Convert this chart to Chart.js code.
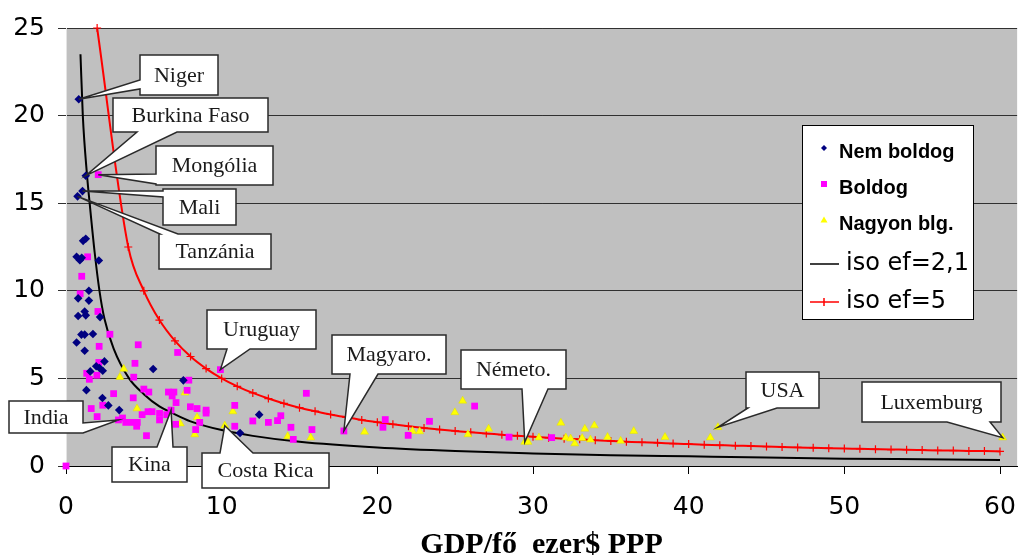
<!DOCTYPE html>
<html>
<head>
<meta charset="utf-8">
<script src="https://cdn.jsdelivr.net/npm/chart.js@4.4.1/dist/chart.umd.min.js"></script>
<style>
  html, body { margin: 0; padding: 0; background: #fff; }
  canvas { display: block; }
</style>
</head>
<body>
<canvas id="happyChart" width="1034" height="556"></canvas>
<script>
// Series values (x = GDP/fő ezer$ PPP)
const nemBoldogX = [0.82, 1.27, 1.06, 0.74, 1.1, 1.27, 0.68, 0.89, 1.01, 2.11, 1.47, 0.78, 1.47, 1.2, 1.27, 0.78, 2.19,
  0.99, 1.2, 1.73, 0.68, 1.2, 2.47, 1.94, 2.15, 2.36, 1.56, 5.6, 7.54, 1.31, 2.34, 2.72, 3.42, 11.18, 12.41];
const nemBoldogY = [20.93, 16.57, 15.69, 15.39, 12.85, 12.97, 11.94, 11.75, 11.88, 11.73, 10.0, 9.57, 9.44, 8.82, 8.6, 8.56, 8.5,
  7.5, 7.5, 7.53, 7.05, 6.58, 5.97, 5.69, 5.59, 5.44, 5.4, 5.54, 4.89, 4.33, 3.88, 3.46, 3.19, 1.88, 2.93];

const boldogX = [0, 2.07, 1.39, 1.01, 0.91, 2.05, 2.82, 2.13, 4.64, 7.17, 2.11, 4.43, 1.33, 1.5, 1.98, 4.35, 7.89, 9.92,
  3.06, 4.32, 5.0, 5.32, 6.58, 6.93, 6.82, 7.07, 7.78, 1.62, 2.36, 2.0, 3.37, 3.63, 3.84, 4.26, 4.58, 4.54,
  4.89, 5.27, 5.53, 6.01, 6.01, 6.47, 5.17, 7.04, 6.75, 7.99, 8.42, 9.0, 9.0, 8.59, 8.33, 10.84, 10.84,
  15.44, 12.0, 13.0, 13.59, 13.8, 14.45, 15.8, 14.6, 17.85, 20.51, 20.36, 21.98, 23.35, 26.25, 28.46, 31.2];
const boldogY = [0, 16.63, 11.94, 10.83, 9.83, 8.82, 7.52, 6.83, 6.92, 6.48, 5.91, 5.86, 5.29, 4.95, 5.18, 5.07, 4.9, 5.5,
  4.13, 3.89, 4.39, 4.22, 4.22, 4.22, 4.0, 3.62, 4.32, 3.28, 3.47, 2.82, 2.63, 2.74, 2.49, 2.49, 2.49, 2.27,
  2.93, 3.1, 3.1, 3.0, 2.63, 2.93, 1.73, 2.38, 3.19, 3.38, 3.28, 3.19, 3.02, 2.49, 2.08, 3.46, 2.27,
  4.15, 2.57, 2.49, 2.59, 2.87, 2.21, 2.08, 1.52, 2.0, 2.65, 2.21, 1.75, 2.55, 3.42, 1.65, 1.62];

const nagyonX = [3.71, 3.46, 7.64, 4.56, 8.42, 7.34, 8.27, 10.2, 10.72, 14.24, 15.72, 19.18, 22.26, 22.72, 24.98, 25.48,
  25.82, 27.15, 29.47, 29.68, 30.38, 31.79, 32.11, 32.42, 32.68, 33.33, 33.94, 33.16, 33.69, 34.79, 35.63,
  36.47, 38.48, 41.39, 41.88, 60.17];
const nagyonY = [5.54, 5.07, 4.18, 3.28, 2.78, 2.42, 1.8, 2.3, 3.11, 1.69, 1.62, 1.95, 1.99, 1.97, 3.06, 3.72,
  1.8, 2.12, 1.37, 1.37, 1.62, 2.46, 1.62, 1.56, 1.28, 2.12, 2.31, 1.59, 1.5, 1.65, 1.43,
  1.99, 1.65, 1.62, 2.21, 1.62];

const isoLowX = [0.93, 1.08, 1.35, 1.52, 1.84, 2.15, 2.47, 3.06, 4.05, 5, 6, 6.75, 8, 10, 12, 15, 20, 25, 30, 35, 40, 45, 50, 55, 60];
const isoLowY = [23.5, 20, 16.6, 15, 12.2, 10, 8.4, 6.7, 5.0, 4.1, 3.4, 3.06, 2.55, 2.05, 1.72, 1.38, 1.05, 0.85, 0.72, 0.62, 0.55, 0.48, 0.42, 0.38, 0.34];

const isoHighX = [2, 4, 5, 6, 7, 8, 9, 10, 11, 12, 13, 14, 15, 16, 17, 18, 19, 20, 21, 22, 23, 24, 25, 26, 27, 28, 29, 30,
  31, 32, 33, 34, 35, 36, 37, 38, 39, 40, 41, 42, 43, 44, 45, 46, 47, 48, 49, 50, 51, 52, 53, 54, 55, 56, 57, 58, 59, 60];
const isoHighY = [25, 12.5, 10, 8.33, 7.14, 6.25, 5.56, 5, 4.55, 4.17, 3.85, 3.57, 3.33, 3.13, 2.94, 2.78, 2.63, 2.5,
  2.38, 2.27, 2.17, 2.08, 2.0, 1.92, 1.85, 1.79, 1.72, 1.67, 1.61, 1.56, 1.52, 1.47, 1.43, 1.39, 1.35, 1.32,
  1.28, 1.25, 1.22, 1.19, 1.16, 1.14, 1.11, 1.09, 1.06, 1.04, 1.02, 1.0, 0.98, 0.96, 0.94, 0.93, 0.91, 0.89,
  0.88, 0.86, 0.85, 0.83];

const xTickValues = [0, 10, 20, 30, 40, 50, 60];

// Labelled countries and the point each callout points at
const calloutNames = ['Niger', 'Burkina Faso', 'Mongólia', 'Mali', 'Tanzánia', 'India', 'Kina', 'Costa Rica',
  'Uruguay', 'Magyaro.', 'Németo.', 'USA', 'Luxemburg'];
const calloutX = [0.82, 1.27, 2.07, 1.06, 0.74, 3.37, 6.75, 10.2, 9.92, 17.85, 29.47, 41.88, 60.17];
const calloutY = [20.93, 16.57, 16.63, 15.69, 15.39, 2.63, 3.19, 2.3, 5.5, 2.0, 1.37, 2.21, 1.62];

// callout box layout in pixels: x, y, w, h, side of the pointer, pointer base from a to b
const calloutBoxes = [
  [140, 55, 78, 40, 'left', 80, 89],
  [113, 98, 155, 34, 'bottom', 137, 177],
  [156, 146, 117, 39, 'left', 174, 184],
  [163, 189, 73, 36, 'left', 191, 197],
  [159, 234, 112, 35, 'top', 160, 178],
  [9, 401, 74, 32, 'right', 423, 433],
  [112, 447, 75, 35, 'top', 157, 173],
  [202, 453, 127, 35, 'top', 220, 253],
  [207, 310, 109, 39, 'bottom', 227, 250],
  [332, 335, 114, 39, 'bottom', 350, 378],
  [461, 350, 105, 39, 'bottom', 522, 548],
  [746, 372, 73, 36, 'bottom', 748, 777],
  [862, 382, 139, 40, 'bottom', 947, 990]
];

function toPoints(xs, ys) {
  return xs.map((x, i) => ({ x: x, y: ys[i] }));
}

// gray plot area
const plotBackground = {
  id: 'plotBackground',
  beforeDraw(chart) {
    const a = chart.chartArea;
    const ctx = chart.ctx;
    ctx.save();
    ctx.fillStyle = '#c0c0c0';
    ctx.fillRect(a.left, a.top, a.right - a.left, a.bottom - a.top);
    ctx.restore();
  }
};

// white boxes with a pointer to the labelled country
const callouts = {
  id: 'callouts',
  afterDatasetsDraw(chart) {
    const ctx = chart.ctx;
    const xs = chart.scales.x, ys = chart.scales.y;
    ctx.save();
    calloutNames.forEach((name, i) => {
      const [x, y, w, h, side, a, b] = calloutBoxes[i];
      const tx = xs.getPixelForValue(calloutX[i]);
      const ty = ys.getPixelForValue(calloutY[i]);
      let pts;
      if (side === 'top') {
        pts = [[x, y], [a, y], [tx, ty], [b, y], [x + w, y], [x + w, y + h], [x, y + h]];
      } else if (side === 'right') {
        pts = [[x, y], [x + w, y], [x + w, a], [tx, ty], [x + w, b], [x + w, y + h], [x, y + h]];
      } else if (side === 'bottom') {
        pts = [[x, y], [x + w, y], [x + w, y + h], [b, y + h], [tx, ty], [a, y + h], [x, y + h]];
      } else {
        pts = [[x, y], [x + w, y], [x + w, y + h], [x, y + h], [x, b], [tx, ty], [x, a]];
      }
      ctx.beginPath();
      pts.forEach((p, k) => k ? ctx.lineTo(p[0], p[1]) : ctx.moveTo(p[0], p[1]));
      ctx.closePath();
      ctx.fillStyle = '#ffffff';
      ctx.fill();
      ctx.lineWidth = 1.5;
      ctx.strokeStyle = '#2a2a2a';
      ctx.lineJoin = 'miter';
      ctx.stroke();
      ctx.fillStyle = '#1a1a1a';
      ctx.font = '22px "Liberation Serif"';
      ctx.textAlign = 'center';
      ctx.textBaseline = 'middle';
      ctx.fillText(name, x + w / 2, y + h / 2 + 1);
    });
    ctx.restore();
  }
};

function drawMarker(ctx, style, x, y, color) {
  ctx.fillStyle = color;
  ctx.strokeStyle = color;
  ctx.beginPath();
  if (style === 'rectRot') {
    ctx.moveTo(x, y - 3); ctx.lineTo(x + 3, y); ctx.lineTo(x, y + 3); ctx.lineTo(x - 3, y);
    ctx.closePath(); ctx.fill();
  } else if (style === 'rect') {
    ctx.fillRect(x - 3, y - 3, 6, 6);
  } else if (style === 'triangle') {
    ctx.moveTo(x, y - 3.5); ctx.lineTo(x + 3.5, y + 2.5); ctx.lineTo(x - 3.5, y + 2.5);
    ctx.closePath(); ctx.fill();
  }
}

// boxed legend drawn inside the plot
const boxLegend = {
  id: 'boxLegend',
  afterDraw(chart) {
    const ctx = chart.ctx;
    const sets = chart.data.datasets;
    const rowsY = [152, 188, 224, 264, 302];
    ctx.save();
    ctx.fillStyle = '#ffffff';
    ctx.fillRect(802, 125, 171, 194);
    ctx.strokeStyle = '#000';
    ctx.lineWidth = 1;
    ctx.strokeRect(802.5, 125.5, 171, 194);
    ctx.textAlign = 'left';
    ctx.textBaseline = 'middle';
    sets.forEach((ds, i) => {
      const y = rowsY[i];
      if (!ds.showLine) {
        drawMarker(ctx, ds.pointStyle, 824, y - 4, ds.backgroundColor);
        ctx.fillStyle = '#000';
        ctx.font = 'bold 20px "Liberation Sans"';
        ctx.fillText(ds.label, 839, y);
      } else {
        ctx.strokeStyle = ds.borderColor;
        ctx.lineWidth = 1.5;
        ctx.beginPath();
        ctx.moveTo(810, y); ctx.lineTo(839, y);
        if (ds.pointRadius > 0) {
          ctx.moveTo(824, y - 4); ctx.lineTo(824, y + 4);
        }
        ctx.stroke();
        ctx.fillStyle = '#000';
        ctx.font = '24px "DejaVu Sans"';
        ctx.fillText(ds.label, 846, y);
      }
    });
    ctx.restore();
  }
};

new Chart(document.getElementById('happyChart'), {
  type: 'scatter',
  data: {
    datasets: [{
      label: 'Nem boldog',
      data: toPoints(nemBoldogX, nemBoldogY),
      pointStyle: 'rectRot',
      pointRadius: 4.3,
      backgroundColor: '#000080',
      borderColor: '#000080',
      borderWidth: 0,
      clip: 10
    }, {
      label: 'Boldog',
      data: toPoints(boldogX, boldogY),
      pointStyle: 'rect',
      pointRadius: 4.8,
      backgroundColor: '#ff00ff',
      borderColor: '#ff00ff',
      borderWidth: 0,
      clip: 10
    }, {
      label: 'Nagyon blg.',
      data: toPoints(nagyonX, nagyonY),
      pointStyle: 'triangle',
      pointRadius: 4.6,
      backgroundColor: '#ffff00',
      borderColor: '#e0e000',
      borderWidth: 0.5,
      clip: 10
    }, {
      label: 'iso ef=2,1',
      data: toPoints(isoLowX, isoLowY),
      showLine: true,
      cubicInterpolationMode: 'monotone',
      borderColor: '#000000',
      backgroundColor: '#000000',
      borderWidth: 2,
      pointRadius: 0,
      clip: 10
    }, {
      label: 'iso ef=5',
      data: toPoints(isoHighX, isoHighY),
      showLine: true,
      cubicInterpolationMode: 'monotone',
      borderColor: '#ff0000',
      backgroundColor: '#ff0000',
      borderWidth: 2,
      pointStyle: 'cross',
      pointRadius: 4,
      pointBorderWidth: 1.2,
      pointBorderColor: '#ff0000',
      clip: 10
    }]
  },
  options: {
    responsive: false,
    animation: false,
    events: [],
    layout: { padding: { top: 22, right: 4, left: 0, bottom: 0 } },
    plugins: {
      legend: { display: false },
      tooltip: { enabled: false }
    },
    scales: {
      x: {
        type: 'linear',
        min: 0,
        max: 61.1,
        afterBuildTicks(scale) {
          scale.ticks = xTickValues.map(v => ({ value: v }));
        },
        afterFit(scale) { scale.height = 90; },
        ticks: {
          color: '#000',
          padding: 18,
          maxRotation: 0,
          font: { family: '"DejaVu Sans"', size: 25 }
        },
        grid: { drawOnChartArea: false, drawTicks: true, tickLength: 8, color: '#000' },
        border: { color: '#000', width: 1 },
        title: {
          display: true,
          text: 'GDP/fő  ezer$ PPP',
          color: '#000',
          padding: { top: 0, bottom: 0 },
          font: { family: '"Liberation Serif"', size: 30, weight: 'bold', lineHeight: 0.7 }
        }
      },
      y: {
        min: 0,
        max: 25,
        afterFit(scale) { scale.width = 66; },
        ticks: {
          stepSize: 5,
          color: '#000',
          padding: 13,
          font: { family: '"DejaVu Sans"', size: 25 }
        },
        grid: { color: '#303030', lineWidth: 1, tickLength: 8 },
        border: { color: '#e4e4e4', width: 1 }
      }
    }
  },
  plugins: [plotBackground, callouts, boxLegend]
});
</script>
</body>
</html>
